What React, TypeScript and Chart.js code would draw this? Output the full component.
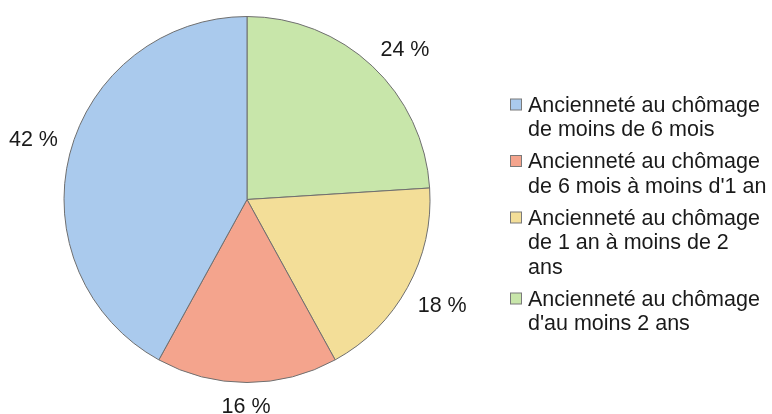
import React, { useEffect, useRef } from "react";
import { Chart, registerables } from "chart.js";

Chart.register(...registerables);

// Legend order (as in the reference legend)
const categories: string[][] = [
  ["Ancienneté au chômage", "de moins de 6 mois"],
  ["Ancienneté au chômage", "de 6 mois à moins d'1 an"],
  ["Ancienneté au chômage", "de 1 an à moins de 2", "ans"],
  ["Ancienneté au chômage", "d'au moins 2 ans"],
];
const shares: number[] = [42, 16, 18, 24];
const sliceColors: string[] = ["#aacaed", "#f4a48d", "#f3de98", "#c8e6aa"];
const valueLabels: string[] = ["42 %", "16 %", "18 %", "24 %"];

const FONT = "21.5px 'Liberation Sans', Arial, sans-serif";
const TEXT_COLOR = "#1a1a1a";

export default function App() {
  const ref = useRef<HTMLCanvasElement | null>(null);

  useEffect(() => {
    if (!ref.current) return;
    // slices are laid out counter-clockwise from the top in the reference,
    // so feed them to the (clockwise) pie in reverse order.
    const order = [3, 2, 1, 0];
    const dsData = order.map((i) => shares[i]);
    const dsColors = order.map((i) => sliceColors[i]);
    const dsLabels = order.map((i) => valueLabels[i]);
    // small placement nudges for the outside labels (style only), in dataset order
    const nudges: [number, number][] = [
      [7, -2],
      [2, 7],
      [-1, 2],
      [0, -10],
    ];

    const labelPlugin = {
      id: "outerLabels",
      afterDatasetsDraw(chart: any) {
        const ctx = chart.ctx;
        const meta = chart.getDatasetMeta(0);
        ctx.save();
        ctx.font = FONT;
        ctx.fillStyle = TEXT_COLOR;
        ctx.textAlign = "center";
        ctx.textBaseline = "alphabetic";
        meta.data.forEach((arc: any, i: number) => {
          const p = arc.getProps(["x", "y", "startAngle", "endAngle", "outerRadius"], true);
          const mid = (p.startAngle + p.endAngle) / 2;
          const dx = Math.cos(mid);
          const dy = Math.sin(mid);
          const text = dsLabels[i];
          const w = ctx.measureText(text).width;
          const h = 16;
          const g = 13;
          const cx = p.x + dx * (p.outerRadius + g) + dx * (w / 2) + nudges[i][0];
          const cy = p.y + dy * (p.outerRadius + g) + dy * (h / 2) + nudges[i][1];
          ctx.fillText(text, cx, cy + 7.7);
        });
        ctx.restore();
      },
      afterDraw(chart: any) {
        const ctx = chart.ctx;
        ctx.save();
        ctx.font = FONT;
        ctx.fillStyle = TEXT_COLOR;
        ctx.textAlign = "left";
        ctx.textBaseline = "alphabetic";
        const lineH = 24.5;
        const gap = 7.5;
        let baseline = 111.5;
        categories.forEach((lines, i) => {
          // swatch
          ctx.fillStyle = sliceColors[i];
          ctx.fillRect(510.5, baseline - 12.5, 11, 11);
          ctx.strokeStyle = "#7a7a7a";
          ctx.lineWidth = 1;
          ctx.strokeRect(510.5, baseline - 12.5, 11, 11);
          ctx.fillStyle = TEXT_COLOR;
          lines.forEach((ln, j) => {
            ctx.fillText(ln, 528, baseline + j * lineH);
          });
          baseline += lines.length * lineH + gap;
        });
        ctx.restore();
      },
    };

    const chart = new Chart(ref.current, {
      type: "pie",
      data: {
        labels: dsLabels,
        datasets: [
          {
            data: dsData,
            backgroundColor: dsColors,
            borderColor: "#6f6f6f",
            borderWidth: 1,
          },
        ],
      },
      options: {
        responsive: false,
        animation: false,
        layout: {
          padding: { left: 63.5, top: 16, right: 341.5, bottom: 31 },
        },
        plugins: {
          legend: { display: false },
          tooltip: { enabled: false },
        },
      },
      plugins: [labelPlugin],
    });
    return () => chart.destroy();
  }, []);

  return (
    <div style={{ position: "absolute", left: 0, top: 0, width: 772, height: 414, background: "#fff" }}>
      <canvas ref={ref} width={772} height={414} style={{ display: "block" }} />
    </div>
  );
}
